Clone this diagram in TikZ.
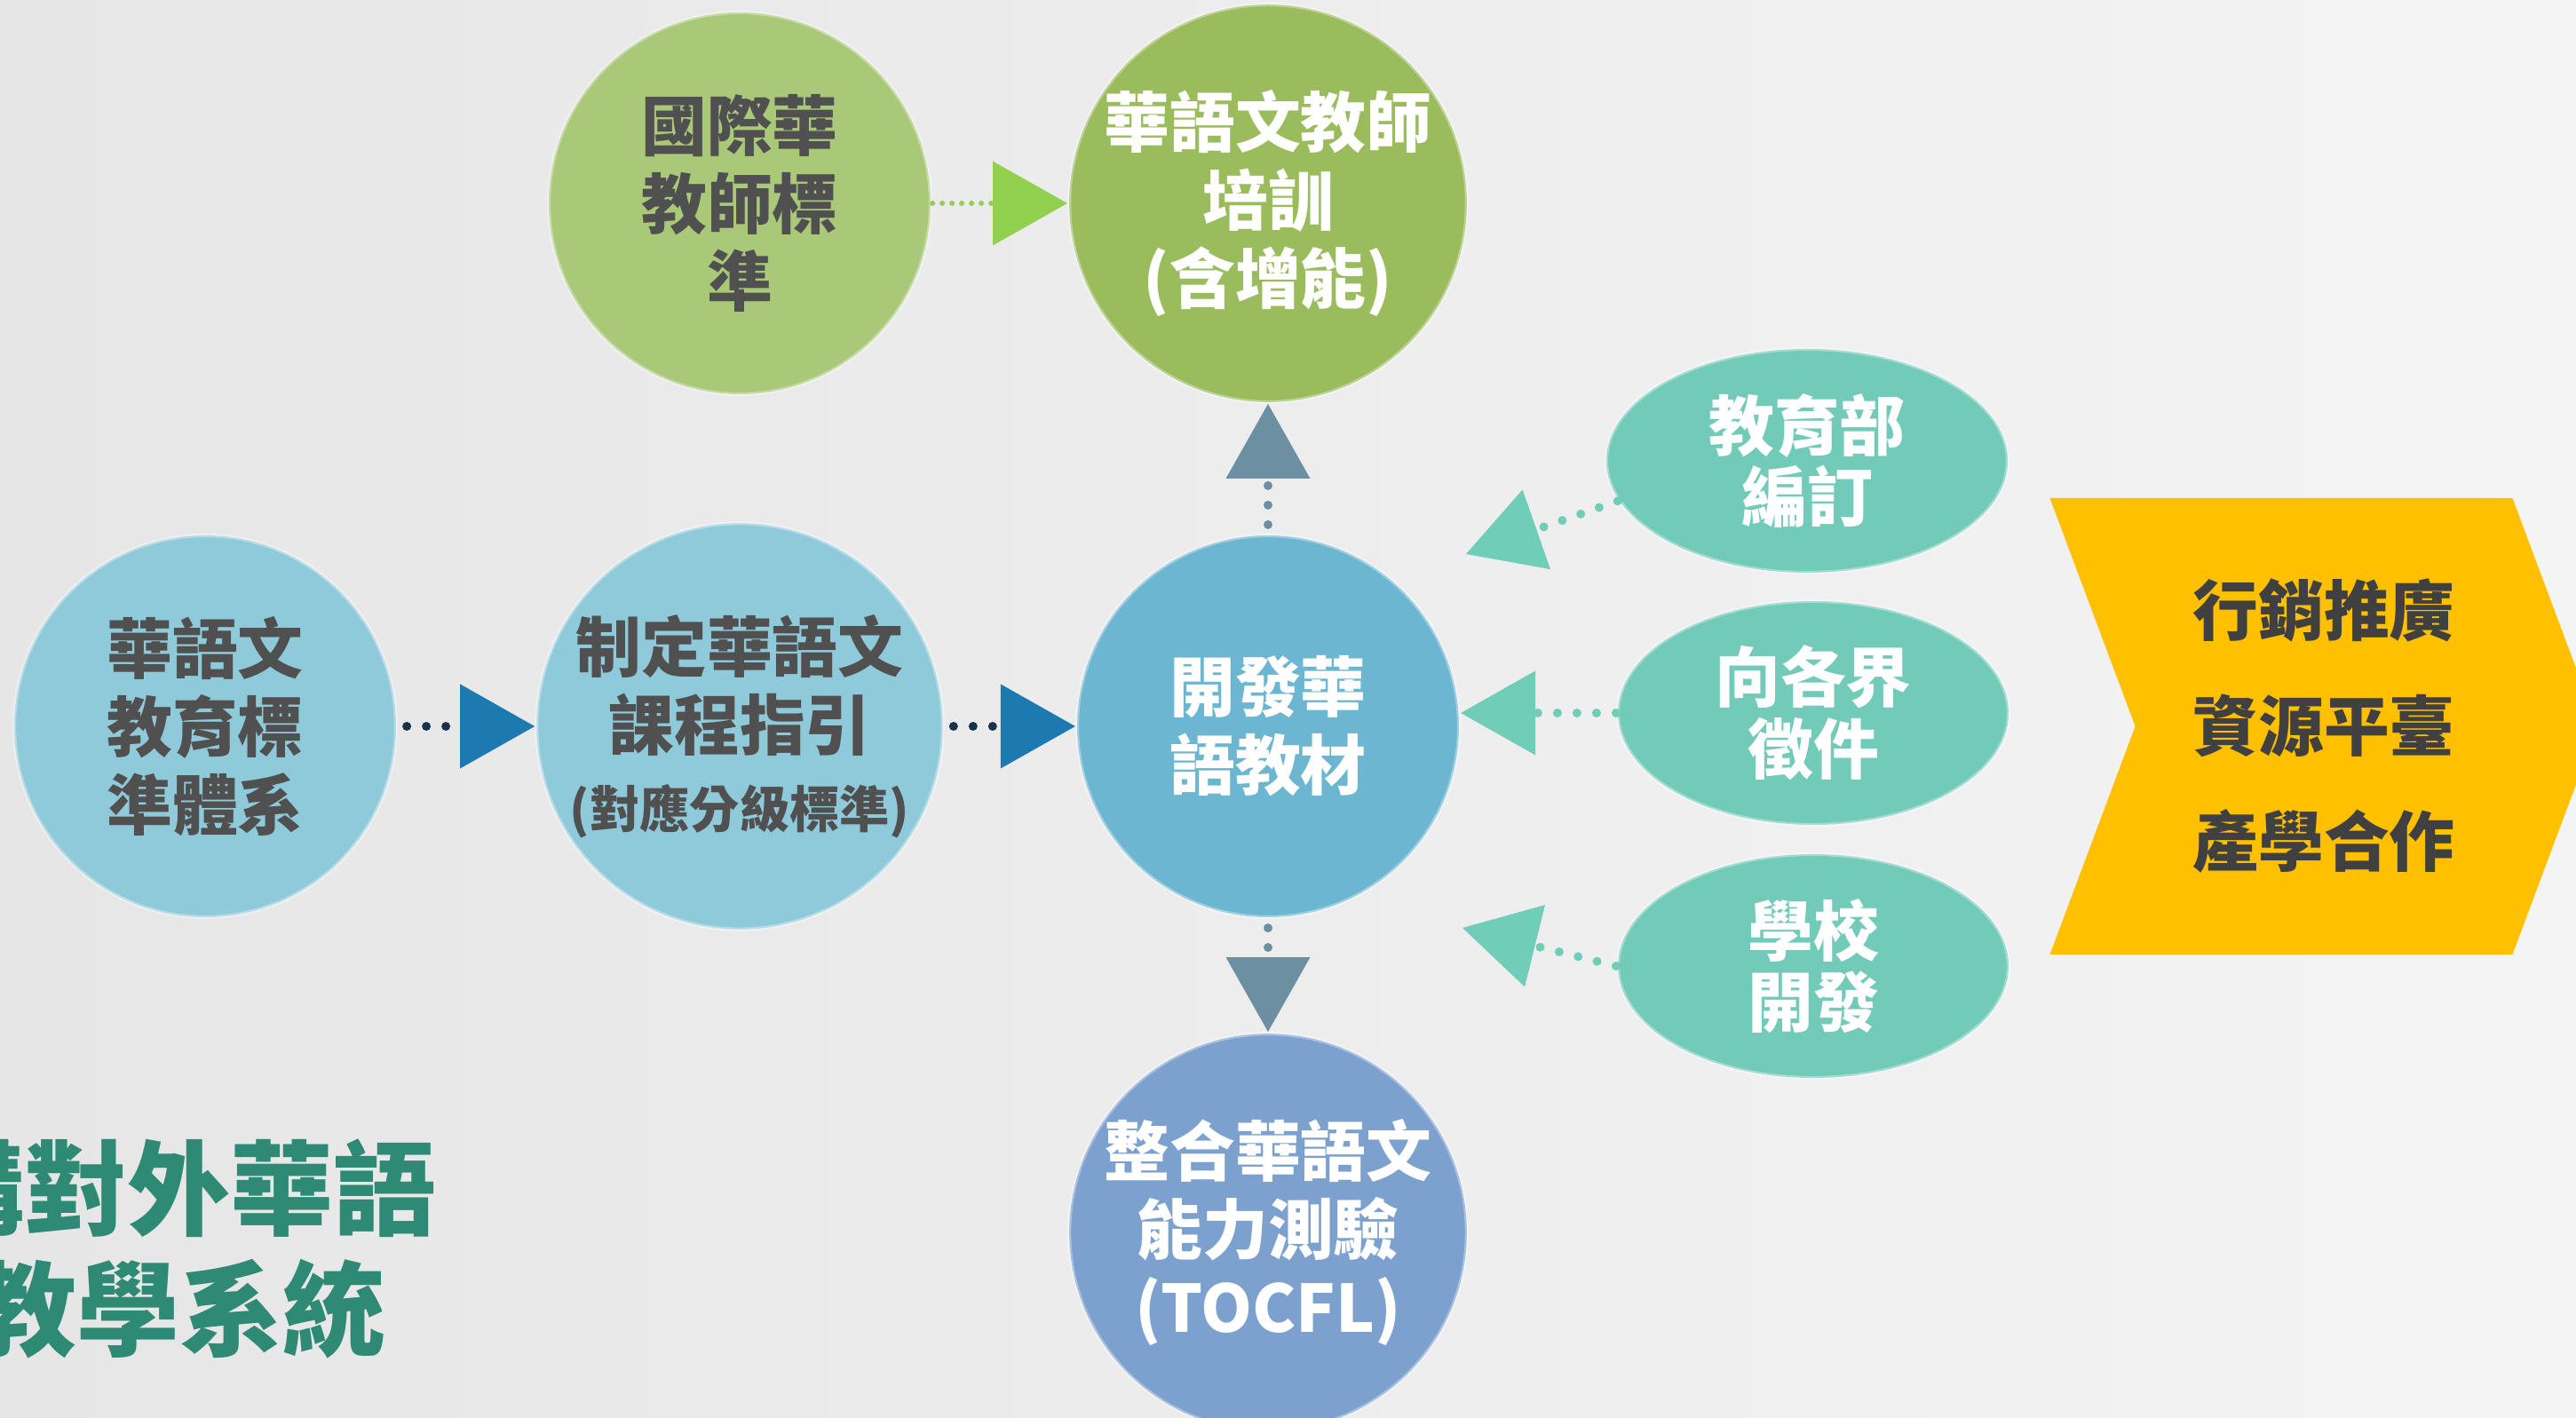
\documentclass[tikz,border=0pt]{standalone}
\usepackage{fontspec}
\setmainfont{Noto Sans CJK TC}
\usetikzlibrary{arrows.meta,shapes.geometric,shapes.symbols}

\definecolor{bgleft}{HTML}{E6E6E6}
\definecolor{bgright}{HTML}{F4F4F4}
\definecolor{blueL}{HTML}{8FCADB}
\definecolor{blueC}{HTML}{6CB6D2}
\definecolor{blueB}{HTML}{7CA1CF}
\definecolor{greenL}{HTML}{A9C878}
\definecolor{greenD}{HTML}{9BBC5D}
\definecolor{tealE}{HTML}{72CAB9}
\definecolor{gold}{HTML}{FFC000}
\definecolor{textgray}{HTML}{505050}
\definecolor{chevtext}{HTML}{404040}
\definecolor{titlegreen}{HTML}{2E8A74}
\definecolor{navy}{HTML}{17324A}
\definecolor{tipblue}{HTML}{1D7AB0}
\definecolor{slate}{HTML}{6C8FA1}
\definecolor{lime}{HTML}{92D050}
\definecolor{tipteal}{HTML}{6FCDB8}

\tikzset{
    bubble/.style={circle, minimum size=4.3cm, inner sep=0pt, align=center,
        draw=white, draw opacity=0.35, line width=1.2pt,
        font=\bfseries\fontsize{21}{25}\selectfont},
    oval/.style={ellipse, minimum width=4.4cm, minimum height=2.52cm, inner sep=0pt,
        align=center, fill=tealE, text=white, draw=white, draw opacity=0.35, line width=1.2pt,
        font=\bfseries\fontsize{21}{23}\selectfont},
    dots/.style={line width=0.1cm, line cap=round, dash pattern=on 0pt off 0.22cm},
    smalldots/.style={line width=0.06cm, line cap=round, dash pattern=on 0pt off 0.11cm},
    head/.style={-{Triangle[length=0.84cm, width=0.95cm, line width=0pt, color=#1]}}
}

\begin{document}
\begin{tikzpicture} %Sistema de ensenanza del chino
    \useasboundingbox (0,0) rectangle (29.01,15.96);
    \shade[left color=bgleft, right color=bgright] (0,0) rectangle (29.01,15.96);

    \node[bubble, fill=blueL, text=textgray] (std) at (2.31,7.78) {華語文\\教育標\\準體系};
    \node[bubble, fill=blueL, text=textgray] (guide) at (8.33,7.78)
        {制定華語文\\課程指引\\{\fontsize{16}{20}\selectfont(對應分級標準)}};
    \node[bubble, fill=blueC, text=white] (mat) at (14.28,7.78) {開發華\\語教材};
    \node[bubble, fill=greenL, text=textgray] (intl) at (8.33,13.67) {國際華\\教師標\\準};
    \node[bubble, fill=greenD, text=white] (train) at (14.28,13.67) {華語文教師\\培訓\\(含增能)};
    \node[bubble, fill=blueB, text=white] (test) at (14.28,2.08) {整合華語文\\能力測驗\\(TOCFL)};

    \node[oval, minimum width=4.52cm] (moe) at (20.35,10.77) {教育部\\編訂};
    \node[oval] (call) at (20.42,7.93) {向各界\\徵件};
    \node[oval] (school) at (20.42,5.08) {學校\\開發};

    \node[signal, signal from=west, signal to=east, signal pointer angle=139,
        fill=gold, minimum width=6.17cm, minimum height=5.14cm, inner sep=0pt,
        align=center, text=chevtext, font=\bfseries\fontsize{21}{37}\selectfont]
        (promo) at (26.17,7.78) {行銷推廣\\資源平臺\\產學合作};

    \node[anchor=east, inner sep=0pt, text=titlegreen,
        font=\bfseries\fontsize{33}{33}\selectfont] (title1) at (4.92,2.58) {構對外華語};
    \node[anchor=east, inner sep=0pt, text=titlegreen,
        font=\bfseries\fontsize{33}{33}\selectfont] (title2) at (4.35,1.22) {教學系統};

    \coordinate (tipA) at (16.51,9.72);
    \coordinate (tipC) at (16.47,5.51);

    \draw[dots, navy, head=tipblue, shorten <=0.1cm] (std) -- (guide);
    \draw[dots, navy, head=tipblue, shorten <=0.1cm] (guide) -- (mat);
    \draw[smalldots, lime, head=lime] (intl) -- (train);
    \draw[dots, slate, head=slate, shorten <=0.1cm] (mat) -- (train);
    \draw[dots, slate, head=slate, shorten <=0.1cm] (mat) -- (test);
    \draw[dots, tipteal, head=tipteal] (moe.192) -- (tipA);
    \draw[dots, tipteal, head=tipteal] (call.west) -- (call.west -| mat.east);
    \draw[dots, tipteal, head=tipteal] (school.west) -- (tipC);
\end{tikzpicture}
\end{document}
